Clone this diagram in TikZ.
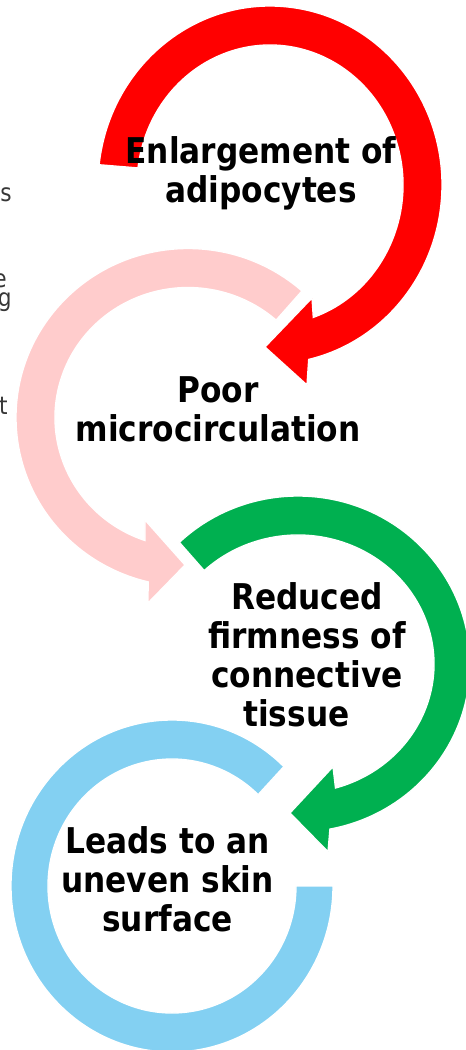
\documentclass[tikz,border=0pt]{standalone}
\usepackage{fontspec}
\setmainfont{DejaVu Sans}[FakeStretch=0.88]
\usetikzlibrary{calc}

\begin{document}
\begin{tikzpicture}[x=0.75pt, y=-0.75pt, line join=miter]

    \definecolor{arrowred}{RGB}{255,0,0}
    \definecolor{arrowpink}{RGB}{255,204,204}
    \definecolor{arrowgreen}{RGB}{0,176,80}
    \definecolor{arrowblue}{RGB}{131,208,242}
    \definecolor{edgegrey}{RGB}{55,55,55}

    \tikzset{
      cause/.style={
        align=center, text=black, inner sep=0pt,
        font=\bfseries\fontsize{26.6}{29.3}\selectfont
      },
      cuttext/.style={anchor=base east, inner sep=0pt, text=edgegrey,
        font=\fontsize{18.5}{20}\selectfont},
      ring/.style={draw=white, line width=1pt}
    }

    \useasboundingbox (0,0) rectangle (466,1050);

    % centres of the four circular arrows
    \coordinate (redc)   at (270,185);
    \coordinate (pinkc)  at (188,417.5);
    \coordinate (greenc) at (298,664);
    \coordinate (bluec)  at (172,886);

    % pieces of text cut off at the left edge
    \node[cuttext] (cuts) at (12,201) {s};
    \node[cuttext] (cute) at (7,287) {e};
    \node[cuttext] (cutg) at (12,306) {g};
    \node[cuttext] (cutt) at (8,414) {t};

    % light blue ring, open at the upper right
    \fill[arrowblue, ring]
      ($(bluec)+(-46:161 and 166)$)
      arc[start angle=-46, end angle=-360, x radius=161, y radius=166]
      -- ($(bluec)+(-360:124 and 127)$)
      arc[start angle=-360, end angle=-46, x radius=124, y radius=127]
      -- cycle;

    % green arrow
    \fill[arrowgreen, ring]
      ($(greenc)+(-133.6:172 and 168)$)
      arc[start angle=-133.6, end angle=79.3, x radius=172, y radius=168]
      -- ($(greenc)+(30,187.7)$)
      -- ($(greenc)+(-8,149)$)
      -- ($(greenc)+(35,102.7)$)
      -- ($(greenc)+(74:136 and 129)$)
      arc[start angle=74, end angle=-133.6, x radius=136, y radius=129]
      -- cycle;

    % pink arrow
    \fill[arrowpink, ring]
      ($(pinkc)+(-48.5:172 and 169)$)
      arc[start angle=-48.5, end angle=-256.6, x radius=172, y radius=169]
      -- ($(pinkc)+(-40,185.5)$)
      -- ($(pinkc)+(-3,147.5)$)
      -- ($(pinkc)+(-43,102.5)$)
      -- ($(pinkc)+(-251.1:133 and 130)$)
      arc[start angle=-251.1, end angle=-48.5, x radius=133, y radius=130]
      -- cycle;

    % red arrow
    \fill[arrowred, ring]
      ($(redc)+(186.5:172 and 179)$)
      arc[start angle=186.5, end angle=437, x radius=172, y radius=179]
      -- ($(redc)+(37,200)$)
      -- ($(redc)+(-5,162)$)
      -- ($(redc)+(42,113)$)
      -- ($(redc)+(431:133 and 140)$)
      arc[start angle=431, end angle=187, x radius=133, y radius=140]
      -- cycle;

    \node[cause] (enlarge) at (261,173) {Enlargement of\\adipocytes};
    \node[cause] (poor)    at (218,409) {Poor\\microcirculation};
    \node[cause] (firm)    at (307,655)
      {Reduced\\firmness of\\connective\\tissue\hspace*{16pt}};
    \node[cause] (uneven)  at (167.5,879) {Leads to an\\uneven skin\\surface};

\end{tikzpicture}
\end{document}
